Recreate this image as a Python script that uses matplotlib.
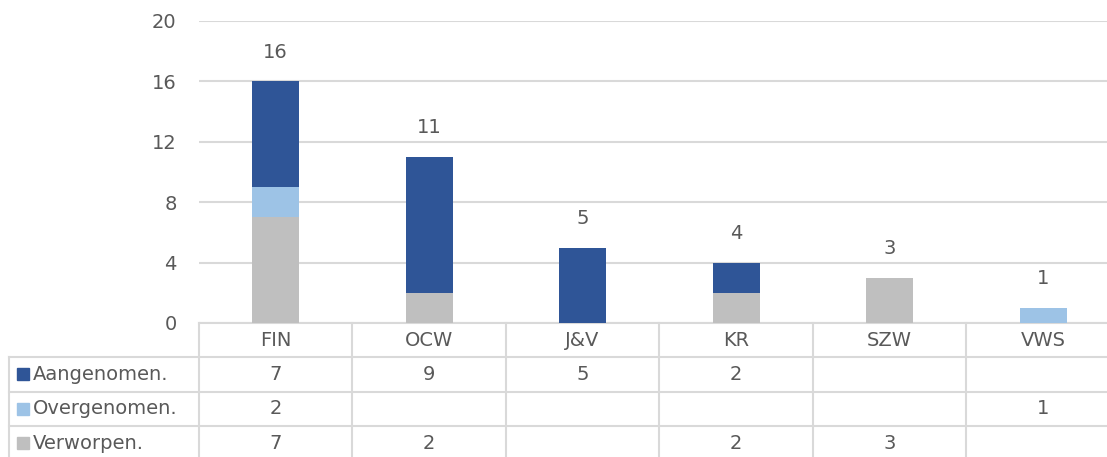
import matplotlib.pyplot as plt
from matplotlib.lines import Line2D
from matplotlib.patches import Rectangle
import numpy as np

# ministeries en aantallen moties per afloop
departments = ['FIN', 'OCW', 'J&V', 'KR', 'SZW', 'VWS']
aangenomen = [7, 9, 5, 2, 0, 0]
overgenomen = [2, 0, 0, 0, 0, 1]
verworpen = [7, 2, 0, 2, 3, 0]
series_names = ['Aangenomen.', 'Overgenomen.', 'Verworpen.']
yticks = [0, 4, 8, 12, 16, 20]

colors = {'Aangenomen.': '#2F5597', 'Overgenomen.': '#9DC3E6', 'Verworpen.': '#BFBFBF'}
text_color = '#595959'
grid_color = '#D9D9D9'
fs = 14

plt.rcParams['font.family'] = ['DejaVu Sans']

W, H = 1107, 457
fig = plt.figure(figsize=(W / 100, H / 100), dpi=100)
# de tabel loopt rechts door tot buiten het beeld
left_px, right_px, top_px, bottom_px = 198.75, 1120, 21, 323
ax = fig.add_axes([left_px / W, 1 - bottom_px / H,
                   (right_px - left_px) / W, (bottom_px - top_px) / H])

x = np.arange(len(departments))
bw = 0.306
aan = np.array(aangenomen)
ove = np.array(overgenomen)
ver = np.array(verworpen)

# gestapeld: verworpen onder, dan overgenomen, dan aangenomen
ax.bar(x, ver, bw, color=colors['Verworpen.'], zorder=3)
ax.bar(x, ove, bw, bottom=ver, color=colors['Overgenomen.'], zorder=3)
ax.bar(x, aan, bw, bottom=ver + ove, color=colors['Aangenomen.'], zorder=3)

totals = aan + ove + ver
for xi, t in zip(x, totals):
    ax.annotate(str(t), (xi, t), xytext=(0, 17), textcoords='offset points',
                ha='center', va='baseline', fontsize=fs, color=text_color)

ax.set_xlim(-0.5, len(departments) - 0.5)
ax.set_ylim(0, 20)
ax.set_yticks(yticks)
ax.set_yticklabels([str(v) for v in yticks], fontsize=fs, color=text_color)
ax.tick_params(axis='y', length=0, pad=16)
ax.set_xticks([])
ax.grid(axis='y', color=grid_color, linewidth=1.5, zorder=0)
for s in ['top', 'right', 'left']:
    ax.spines[s].set_visible(False)
ax.spines['bottom'].set_color(grid_color)
ax.spines['bottom'].set_linewidth(1.5)

# datatabel onder de grafiek
px_per_unit = (right_px - left_px) / len(departments)
table_left = -0.5 - (left_px - 9) / px_per_unit
axes_h = bottom_px - top_px
row_h = 34.3 / axes_h
n_rows = len(series_names) + 1
trans = ax.get_xaxis_transform()
line_kw = dict(color=grid_color, linewidth=1.5, transform=trans, clip_on=False)

# horizontale lijnen
for r in range(1, n_rows):
    ax.add_line(Line2D([table_left, len(departments) - 0.5], [-r * row_h] * 2, **line_kw))
# verticale lijnen
bottom_y = -n_rows * row_h - 0.02
ax.add_line(Line2D([table_left] * 2, [-row_h, bottom_y], **line_kw))
for i in range(len(departments)):
    ax.add_line(Line2D([i - 0.5] * 2, [0, bottom_y], **line_kw))

# kolomkoppen
for xi, d in zip(x, departments):
    ax.text(xi, -0.5 * row_h, d, transform=trans, ha='center', va='center',
            fontsize=fs, color=text_color)

# rijen met legendasleutels en waarden
rows = [aangenomen, overgenomen, verworpen]
key = 12
for r, (name, vals) in enumerate(zip(series_names, rows), start=1):
    yc = -(r + 0.5) * row_h
    ax.add_patch(Rectangle((table_left + 8 / px_per_unit, yc - key / 2 / axes_h),
                           key / px_per_unit, key / axes_h,
                           transform=trans, color=colors[name], clip_on=False))
    ax.text(table_left + 24 / px_per_unit, yc, name, transform=trans, ha='left', va='center',
            fontsize=fs, color=text_color)
    for xi, v in zip(x, vals):
        if v:
            ax.text(xi, yc, str(v), transform=trans, ha='center', va='center',
                    fontsize=fs, color=text_color)

fig.savefig('out.png', dpi=100)
